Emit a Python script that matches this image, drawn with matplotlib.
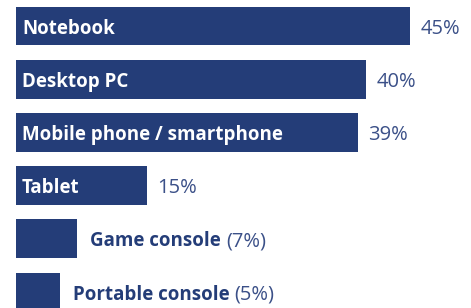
import matplotlib
matplotlib.use('Agg')
import matplotlib.pyplot as plt

# device usage shares
devices = ['Notebook', 'Desktop PC', 'Mobile phone / smartphone', 'Tablet',
           'Game console', 'Portable console']
shares = [45, 40, 39, 15, 7, 5]
value_labels = ['45%', '40%', '39%', '15%', '(7%)', '(5%)']

navy = '#243d78'
navy_light = '#3b5088'
plt.rcParams['font.family'] = ['Open Sans', 'DejaVu Sans']

fig = plt.figure(figsize=(4.71, 3.08), dpi=100)
ax = fig.add_axes([16/471, 0, 455/471, 1])
px_per_unit = 8.76
ax.set_xlim(0, 455/px_per_unit)
pitch = 53.2
ax.set_ylim((308-26)/pitch, -26/pitch)
ax.axis('off')

ypos = list(range(len(devices)))
ax.barh(ypos, shares, height=0.73, color=navy)

fs = 13.5
fs_val = 14.5
for y, name, v, lab in zip(ypos, devices, shares, value_labels):
    if v >= 15:
        ax.annotate(name, xy=(0, y), xytext=(6, 0), textcoords='offset pixels',
                    va='center_baseline', ha='left', color='white', fontsize=fs, fontweight='bold')
        ax.annotate(lab, xy=(v, y), xytext=(10, 0), textcoords='offset pixels',
                    va='center_baseline', ha='left', color=navy_light, fontsize=fs_val)
    else:
        t = ax.annotate(name, xy=(v, y), xytext=(13, 0), textcoords='offset pixels',
                        va='center_baseline', ha='left', color=navy, fontsize=fs, fontweight='bold')
        fig.canvas.draw()
        w = t.get_window_extent().width
        ax.annotate(lab, xy=(v, y), xytext=(13 + w + 5, 0), textcoords='offset pixels',
                    va='center_baseline', ha='left', color=navy_light, fontsize=fs_val)

fig.savefig('out.png', dpi=100)
